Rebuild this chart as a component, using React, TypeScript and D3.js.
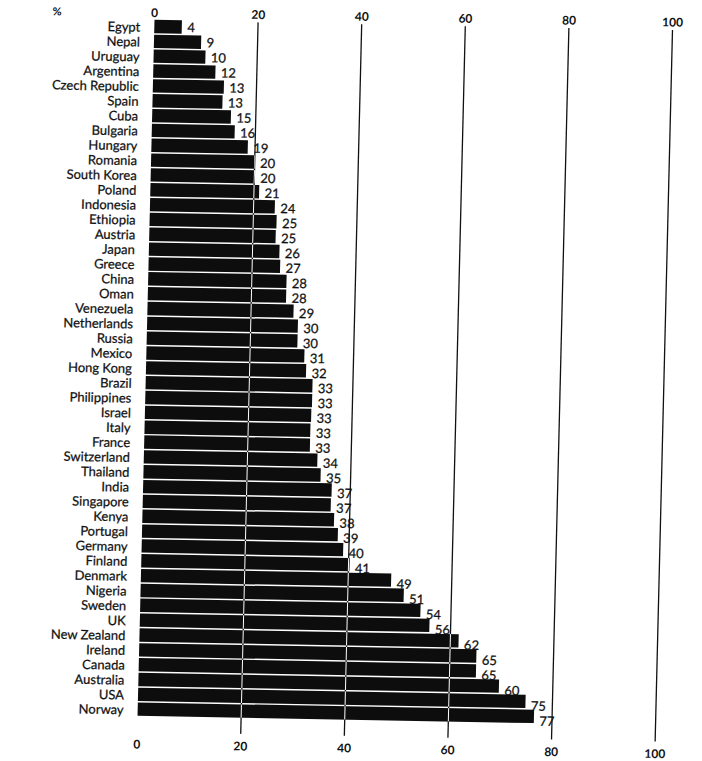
import React from "react";
import * as d3 from "d3";

const countries = [
  "Egypt", "Nepal", "Uruguay", "Argentina", "Czech Republic", "Spain", "Cuba",
  "Bulgaria", "Hungary", "Romania", "South Korea", "Poland", "Indonesia",
  "Ethiopia", "Austria", "Japan", "Greece", "China", "Oman", "Venezuela",
  "Netherlands", "Russia", "Mexico", "Hong Kong", "Brazil", "Philippines",
  "Israel", "Italy", "France", "Switzerland", "Thailand", "India", "Singapore",
  "Kenya", "Portugal", "Germany", "Finland", "Denmark", "Nigeria", "Sweden",
  "UK", "New Zealand", "Ireland", "Canada", "Australia", "USA", "Norway",
];

// bar lengths as drawn in the source picture
const values = [
  5.3, 9.1, 10, 12, 13.7, 13.5, 15.2, 16, 18.6, 20, 20.1, 21, 24.1, 24.5, 24.4,
  25.2, 25.4, 26.7, 26.7, 28.2, 29.1, 29.1, 30.5, 30.9, 32.2, 32.2, 32.1, 32,
  32, 33.5, 34.2, 36.4, 36.3, 37, 37.8, 38.9, 40.2, 48.3, 50.8, 54.1, 55.9,
  61.6, 65.1, 65.1, 69.6, 74.8, 76.5,
];

// value labels as printed in the source (Australia's label is printed "60")
const printedLabels = [
  "4", "9", "10", "12", "13", "13", "15", "16", "19", "20", "20", "21", "24",
  "25", "25", "26", "27", "28", "28", "29", "30", "30", "31", "32", "33", "33",
  "33", "33", "33", "34", "35", "37", "37", "38", "39", "40", "41", "49", "51",
  "54", "56", "62", "65", "65", "60", "75", "77",
];

const ticks = [0, 20, 40, 60, 80, 100];
const gridTicks = [20, 40, 60, 80, 100];
const unitLabel = "%";

const W = 702;
const H = 761;
const FONT = "Lato, 'Open Sans', sans-serif";

export default function App() {
  const x = d3.scaleLinear().domain([0, 100]).range([154.5, 672.5]);
  const y = d3
    .scaleBand<string>()
    .domain(countries)
    .range([19.1, 716.6])
    .paddingInner(0.1)
    .paddingOuter(0.05);
  const yLabel = d3.scalePoint<string>().domain(countries).range([26.9, 713.8]);

  const gridTop = 20.5;
  const gridBottom = 732;
  const transform = "translate(155,20) matrix(1,0.0183,-0.0244,1,0,0) translate(-155,-20)";

  return (
    <svg
      width={W}
      height={H}
      style={{ position: "absolute", left: 0, top: 0, background: "#fff" }}
    >
      <defs>
        <clipPath id="barClip">
          {countries.map((c, i) => (
            <rect
              key={c}
              x={x(0)}
              y={y(c)}
              width={x(values[i]) - x(0)}
              height={y.bandwidth()}
            />
          ))}
        </clipPath>
      </defs>
      <rect width={W} height={H} fill="#fff" />
      <g transform={transform} fontFamily={FONT}>
        <text x={57} y={13.3} dy="0.35em" textAnchor="middle" fontSize={11} fontWeight={700} fill="#111">
          {unitLabel}
        </text>
        {ticks.map((t) => (
          <text key={"tt" + t} x={x(t)} y={17} textAnchor="middle" fontSize={12} fontWeight={700} fill="#111">
            {t}
          </text>
        ))}
        {ticks.map((t) => (
          <text key={"bt" + t} x={x(t)} y={748.5} textAnchor="middle" fontSize={12} fontWeight={700} fill="#111">
            {t}
          </text>
        ))}
        {gridTicks.map((t) => (
          <line
            key={"g" + t}
            x1={x(t)}
            x2={x(t)}
            y1={gridTop}
            y2={gridBottom}
            stroke="#111"
            strokeWidth={1.3}
          />
        ))}
        {countries.map((c, i) => (
          <rect
            key={"b" + c}
            x={x(0)}
            y={y(c)}
            width={x(values[i]) - x(0)}
            height={y.bandwidth()}
            fill="#0d0d0d"
          />
        ))}
        <g clipPath="url(#barClip)">
          {gridTicks.map((t) => (
            <line
              key={"w" + t}
              x1={x(t)}
              x2={x(t)}
              y1={gridTop}
              y2={gridBottom}
              stroke="#fff"
              strokeWidth={1}
            />
          ))}
        </g>
        {countries.map((c) => (
          <text
            key={"c" + c}
            x={140.5}
            y={(y(c) as number) + y.bandwidth() / 2 + 0.8}
            dy="0.35em"
            textAnchor="end"
            fontSize={13}
            fill="#111"
            stroke="#111"
            strokeWidth={0.25}
          >
            {c}
          </text>
        ))}
        {countries.map((c, i) => (
          <text
            key={"v" + c}
            x={x(values[i]) + 5.5}
            y={yLabel(c)}
            dy="0.35em"
            textAnchor="start"
            fontSize={13}
            fill="#111"
            stroke="#111"
            strokeWidth={0.25}
          >
            {printedLabels[i]}
          </text>
        ))}
      </g>
    </svg>
  );
}
